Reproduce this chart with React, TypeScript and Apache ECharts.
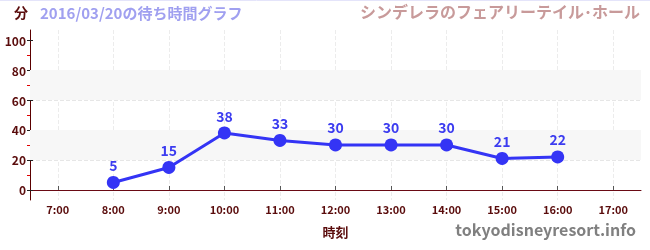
import React, { useEffect, useRef } from "react";
import * as echarts from "echarts";

const categories = ["7:00", "8:00", "9:00", "10:00", "11:00", "12:00", "13:00", "14:00", "15:00", "16:00", "17:00"];
const waitTimes: (number | null)[] = [null, 5, 15, 38, 33, 30, 30, 30, 21, 22, null];
const yTicks = [0, 20, 40, 60, 80, 100];
const bands = [[20, 40], [60, 80]];

const FONT = "'Noto Sans CJK JP', 'Noto Sans', sans-serif";
const MAROON = "#5a0c0c";

export default function App() {
  const ref = useRef<HTMLDivElement>(null);
  useEffect(() => {
    if (!ref.current) return;
    const chart = echarts.init(ref.current, null, { renderer: "svg" });
    chart.setOption({
      animation: false,
      textStyle: { fontFamily: FONT },
      grid: { left: 30, right: 9, top: 30, bottom: 50, containLabel: false },
      graphic: [
        { type: "line", shape: { x1: 0, y1: 0.5, x2: 650, y2: 0.5 }, style: { stroke: "#e4e4fa", lineWidth: 1 } },
        { type: "text", left: 14, top: 5, style: { text: "分", fill: MAROON, font: `bold 14px ${FONT}` } },
        { type: "text", left: 40, top: 5, style: { text: "2016/03/20の待ち時間グラフ", fill: "#a0a0f0", font: `bold 15px ${FONT}` } },
        { type: "text", right: 10, top: 3, style: { text: "シンデレラのフェアリーテイル･ホール", fill: "#c89a9a", font: `bold 16px ${FONT}` } },
        { type: "text", right: 14, top: 221, style: { text: "tokyodisneyresort.info", fill: "#808080", font: `bold 16px ${FONT}` } },
      ],
      xAxis: {
        type: "category",
        data: categories,
        boundaryGap: true,
        name: "時刻",
        nameLocation: "middle",
        nameGap: 25,
        nameTextStyle: { color: MAROON, fontWeight: "bold", fontSize: 13, fontFamily: FONT },
        axisLine: { lineStyle: { color: "#6a0a14", width: 1 } },
        axisTick: { show: true, alignWithLabel: true, inside: true, length: 4, lineStyle: { color: "#555" } },
        axisLabel: { color: MAROON, fontSize: 11, fontWeight: "bold", margin: 3, fontFamily: FONT },
        splitLine: { show: true, alignWithLabel: true, lineStyle: { color: "#ececec", type: "dashed" } },
      },
      yAxis: [
        {
          type: "value",
          min: -6.7,
          max: 106.7,
          splitNumber: 5,
          position: "left",
          axisLine: { show: true, lineStyle: { color: "#5a0000", width: 1 } },
          axisTick: { show: true, customValues: yTicks, length: 3, lineStyle: { color: "#222" } },
          minorTick: { show: true, splitNumber: 2, length: 3, lineStyle: { color: "#e00000" } },
          axisLabel: {
            customValues: yTicks,
            color: MAROON,
            fontSize: 12,
            fontWeight: "bold",
            margin: 4,
            fontFamily: FONT,
            formatter: (v: number) => (yTicks.includes(Math.round(v)) && Math.abs(v - Math.round(v)) < 1e-6 ? String(Math.round(v)) : ""),
          },
          splitLine: { show: true, showMinLine: false, showMaxLine: false, lineStyle: { color: "#e6e6e6", type: "dashed" } },
        },
        {
          type: "value",
          min: -6.7,
          max: 106.7,
          splitNumber: 5,
          position: "left",
          offset: 0,
          axisLine: { show: false },
          axisTick: { show: true, inside: true, customValues: yTicks, length: 3, lineStyle: { color: "#222" } },
          axisLabel: { show: false },
          splitLine: { show: false },
        },
      ],
      series: [
        {
          type: "line",
          data: waitTimes,
          yAxisIndex: 0,
          color: "#3434f5",
          lineStyle: { width: 3, color: "#3434f5" },
          symbol: "circle",
          symbolSize: 13,
          itemStyle: { color: "#3434f5" },
          label: { show: true, position: "top", distance: 4, color: "#3c3cf0", fontSize: 14, fontWeight: "bold", fontFamily: FONT },
          markArea: {
            silent: true,
            itemStyle: { color: "#f7f7f7" },
            data: bands.map(([a, b]) => [{ yAxis: a }, { yAxis: b }]),
          },
          z: 3,
        },
      ],
    });
    return () => chart.dispose();
  }, []);
  return <div ref={ref} style={{ position: "fixed", left: 0, top: 0, width: 650, height: 250 }} />;
}
